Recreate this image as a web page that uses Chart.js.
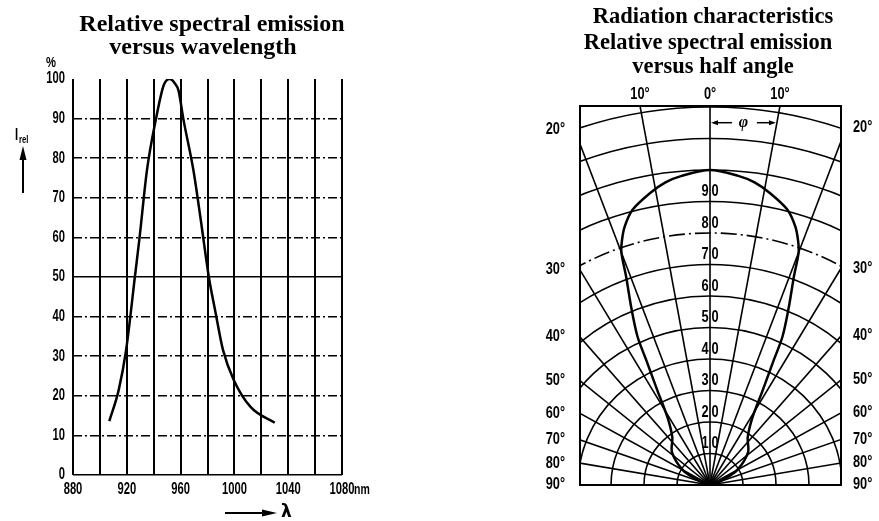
<!DOCTYPE html>
<html>
<head>
<meta charset="utf-8">
<script src="https://cdn.jsdelivr.net/npm/chart.js@4.4.1/dist/chart.umd.min.js"></script>
<style>
  html, body { margin: 0; padding: 0; background: #fff; }
  #wrap { position: relative; width: 879px; height: 521px; overflow: hidden; }
  .box { position: absolute; top: 0; height: 521px; }
</style>
</head>
<body>
<div id="wrap">
  <div class="box" style="left:0;width:430px"><canvas id="spectrum"></canvas></div>
  <div class="box" style="left:430px;width:449px"><canvas id="radiation"></canvas></div>
</div>
<script>
// left plot: relative spectral emission (%) vs wavelength (nm)
const wavelengths = [907, 914, 919.5, 926, 929.5, 935, 941.5, 947.5, 952, 955.5, 958.5, 962, 969.5, 975, 981, 986, 991.5, 999.5, 1012, 1030];
const emission = [13.6, 21.5, 31.6, 50, 60, 77, 89.6, 98.5, 100, 99, 97, 90, 77, 64.4, 50, 41, 31.6, 24, 17.2, 13.2];
const wavelengthLabels = [880, 920, 960, 1000, 1040, 1080];

// right plot: relative emission (%) vs half angle (deg)
const halfAngles = [-90, -75, -68, -60, -48, -37, -31, -28, -26, -25, -23, -21, -20, -19, -17.5, -15, -11, -8, -5, 0,
  5, 8, 11, 15, 17.5, 19, 20, 21, 23, 25, 26, 28, 31, 37, 48, 60, 68, 75, 90];
const intensity = [0, 2, 4, 9.5, 15.5, 19, 25, 34, 44, 52, 61, 71, 78.5, 82, 86, 90.5, 94.5, 97, 98.5, 100,
  98.5, 97, 94.5, 90.5, 86, 82, 78.5, 71, 61, 52, 44, 34, 25, 19, 15.5, 9.5, 4, 2, 0];
const ringRadii = [10, 20, 30, 40, 50, 60, 70, 80, 90, 100, 110, 120];
const ringLabels = [10, 20, 30, 40, 50, 60, 70, 80, 90];
const spokeAngles = [-80, -70, -60, -50, -40, -30, -20, -10, 0, 10, 20, 30, 40, 50, 60, 70, 80];
const topAngles = [-10, 0, 10];
const sideAngles = [20, 30, 40, 50, 60, 70, 80, 90];

const sans = '"Liberation Sans", Arimo, Arial, sans-serif';
const serif = '"Liberation Serif", "DejaVu Serif", serif';

function txt(ctx, s, x, y, font, align, base) {
  ctx.font = font;
  ctx.textAlign = align || 'center';
  ctx.textBaseline = base || 'alphabetic';
  ctx.fillStyle = '#000';
  ctx.fillText(s, x, y);
}

// condensed lettering like the datasheet's DIN labels
function ntxt(ctx, s, x, y, size, align, base, squeeze) {
  ctx.save();
  ctx.translate(x, y);
  ctx.scale(squeeze || 0.7, 1);
  txt(ctx, s, 0, 0, 'bold ' + size + 'px ' + sans, align, base);
  ctx.restore();
}

const rad = d => d * Math.PI / 180;

const spectrumExtras = {
  id: 'spectrumExtras',
  afterDraw(chart) {
    const ctx = chart.ctx;
    const x = chart.scales.x, y = chart.scales.y;
    ctx.save();
    // tick labels, placed by the scales
    x.ticks.forEach((t) => {
      if (wavelengthLabels.includes(t.value)) ntxt(ctx, String(t.value), x.getPixelForValue(t.value), y.bottom + 15, 16, 'center', 'middle');
    });
    y.ticks.forEach((t) => {
      ntxt(ctx, String(t.value), x.left - 8, y.getPixelForValue(t.value), 16, 'right', 'middle');
    });
    txt(ctx, 'Relative spectral emission', 212, 31, 'bold 24px ' + serif);
    txt(ctx, 'versus wavelength', 203, 54, 'bold 24px ' + serif);
    ntxt(ctx, '%', 51, y.top - 16, 14, 'center', 'middle', 0.8);
    // I_rel with arrow
    ntxt(ctx, 'I', 15, 140, 16, 'left');
    ntxt(ctx, 'rel', 19, 143, 11, 'left');
    ctx.strokeStyle = '#000';
    ctx.lineWidth = 2;
    ctx.beginPath(); ctx.moveTo(23, 193); ctx.lineTo(23, 156); ctx.stroke();
    ctx.beginPath(); ctx.moveTo(23, 146); ctx.lineTo(19.5, 160); ctx.lineTo(26.5, 160); ctx.closePath(); ctx.fill();
    // nm unit after last label
    ntxt(ctx, 'nm', x.right + 12, y.bottom + 15, 15, 'left', 'middle');
    // lambda arrow
    ctx.beginPath(); ctx.moveTo(225, 513); ctx.lineTo(264, 513); ctx.stroke();
    ctx.beginPath(); ctx.moveTo(277, 513); ctx.lineTo(262, 509.5); ctx.lineTo(262, 516.5); ctx.closePath(); ctx.fill();
    txt(ctx, 'λ', 281, 513, 'bold 17px "DejaVu Sans", sans-serif', 'left', 'middle');
    ctx.restore();
  }
};

new Chart(document.getElementById('spectrum'), {
  type: 'scatter',
  data: {
    datasets: [{
      data: wavelengths.map((w, i) => ({ x: w, y: emission[i] })),
      showLine: true,
      borderColor: '#000',
      backgroundColor: '#000',
      borderWidth: 2.5,
      pointRadius: 0,
      cubicInterpolationMode: 'monotone',
    }],
  },
  options: {
    animation: false,
    responsive: true,
    maintainAspectRatio: false,
    layout: { padding: { top: 79, right: 88, left: 0, bottom: 0 } },
    plugins: { legend: { display: false }, tooltip: { enabled: false } },
    scales: {
      x: {
        type: 'linear',
        min: 880,
        max: 1080,
        afterFit: (s) => { s.height = 46; },
        ticks: {
          stepSize: 20,
          autoSkip: false,
          maxRotation: 0,
          color: 'rgba(0,0,0,0)',
          font: { size: 11 },
        },
        grid: { color: '#000', lineWidth: 2, drawTicks: false },
        border: { display: false },
      },
      y: {
        min: 0,
        max: 100,
        afterFit: (s) => { s.width = 73; },
        ticks: { stepSize: 10, color: 'rgba(0,0,0,0)', font: { size: 11 } },
        grid: {
          color: (c) => (c.tick && c.tick.value === 100 ? 'rgba(0,0,0,0)' : '#000'),
          lineWidth: 1.5,
          drawTicks: false,
        },
        border: {
          display: false,
          dash: (c) => (c.tick && (c.tick.value === 0 || c.tick.value === 50) ? [] : [9, 3, 2, 3]),
        },
      },
    },
  },
  plugins: [spectrumExtras],
});

const polarGrid = {
  id: 'polarGrid',
  beforeDatasetsDraw(chart) {
    const { ctx, chartArea: a } = chart;
    const x = chart.scales.x, y = chart.scales.y;
    const cx = x.getPixelForValue(0), cy = y.getPixelForValue(0);
    const kx = x.getPixelForValue(1) - cx, ky = cy - y.getPixelForValue(1);
    ctx.save();
    ctx.beginPath();
    ctx.rect(a.left, a.top, a.right - a.left, a.bottom - a.top);
    ctx.clip();
    ctx.strokeStyle = '#000';
    ctx.lineWidth = 1.6;
    ringRadii.forEach((r) => {
      ctx.setLineDash(r === 80 ? [16, 4, 2, 4] : []);
      ctx.beginPath();
      ctx.ellipse(cx, cy, r * kx, r * ky, 0, Math.PI, 2 * Math.PI);
      ctx.stroke();
    });
    ctx.setLineDash([]);
    spokeAngles.forEach((d) => {
      ctx.beginPath();
      ctx.moveTo(cx, cy);
      ctx.lineTo(x.getPixelForValue(200 * Math.sin(rad(d))), y.getPixelForValue(200 * Math.cos(rad(d))));
      ctx.stroke();
    });
    ctx.restore();
  },
  afterDatasetsDraw(chart) {
    const { ctx, chartArea: a } = chart;
    const x = chart.scales.x, y = chart.scales.y;
    const cx = x.getPixelForValue(0);
    ctx.save();
    ctx.strokeStyle = '#000';
    ctx.lineWidth = 2;
    ctx.strokeRect(a.left, a.top, a.right - a.left, a.bottom - a.top);

    // titles
    txt(ctx, 'Radiation characteristics', 283, 23, 'bold 22.5px ' + serif);
    txt(ctx, 'Relative spectral emission', 278, 49, 'bold 22.5px ' + serif);
    txt(ctx, 'versus half angle', 283, 73, 'bold 22.5px ' + serif);

    // ring values, split by the 0° line
    ringLabels.forEach((r) => {
      const s = String(r), py = y.getPixelForValue(r + 3);
      ntxt(ctx, s.slice(0, 1), cx - 1.5, py, 16, 'right', 'middle', 0.8);
      ntxt(ctx, s.slice(1), cx + 1.5, py, 16, 'left', 'middle', 0.8);
    });

    // angle labels along the top
    topAngles.forEach((d) => {
      const px = x.getPixelForValue(y.max * Math.tan(rad(d)));
      ntxt(ctx, Math.abs(d) + '°', px, a.top - 11, 16, 'center', 'middle', 0.8);
    });
    // angle labels along the sides
    sideAngles.forEach((d) => {
      const yl = d === 90 ? 0 : (-x.min) / Math.tan(rad(d));
      const yr = d === 90 ? 0 : x.max / Math.tan(rad(d));
      const nudge = d === 20 ? -14 : 0;
      ntxt(ctx, d + '°', a.left - 15, y.getPixelForValue(yl) + nudge, 16, 'right', 'middle', 0.8);
      ntxt(ctx, d + '°', a.right + 12, y.getPixelForValue(yr) + nudge, 16, 'left', 'middle', 0.8);
    });

    // phi arrow between 0° and 10° spokes
    const yv = 115;
    const py = y.getPixelForValue(yv);
    const x0 = cx, x1 = x.getPixelForValue(yv * Math.tan(rad(10)));
    ctx.lineWidth = 1.5;
    ctx.beginPath(); ctx.moveTo(x0 + 6, py); ctx.lineTo(x0 + 22, py); ctx.stroke();
    ctx.beginPath(); ctx.moveTo(x0 + 1, py); ctx.lineTo(x0 + 8, py - 2.5); ctx.lineTo(x0 + 8, py + 2.5); ctx.closePath(); ctx.fill();
    ctx.beginPath(); ctx.moveTo(x1 - 20, py); ctx.lineTo(x1 - 6, py); ctx.stroke();
    ctx.beginPath(); ctx.moveTo(x1 - 1, py); ctx.lineTo(x1 - 8, py - 2.5); ctx.lineTo(x1 - 8, py + 2.5); ctx.closePath(); ctx.fill();
    txt(ctx, 'φ', (x0 + x1) / 2, py, 'italic bold 16px ' + serif, 'center', 'middle');
    ctx.restore();
  }
};

new Chart(document.getElementById('radiation'), {
  type: 'scatter',
  data: {
    datasets: [{
      data: halfAngles.map((d, i) => ({ x: intensity[i] * Math.sin(rad(d)), y: intensity[i] * Math.cos(rad(d)) })),
      showLine: true,
      borderColor: '#000',
      backgroundColor: '#000',
      borderWidth: 2.5,
      pointRadius: 0,
      tension: 0.3,
    }],
  },
  options: {
    animation: false,
    responsive: true,
    maintainAspectRatio: false,
    layout: { padding: { left: 150, right: 38, top: 106, bottom: 36 } },
    plugins: { legend: { display: false }, tooltip: { enabled: false } },
    scales: {
      x: { type: 'linear', min: -39.4, max: 39.7, display: false },
      y: { type: 'linear', min: 0, max: 120.3, display: false },
    },
  },
  plugins: [polarGrid],
});
</script>
</body>
</html>
